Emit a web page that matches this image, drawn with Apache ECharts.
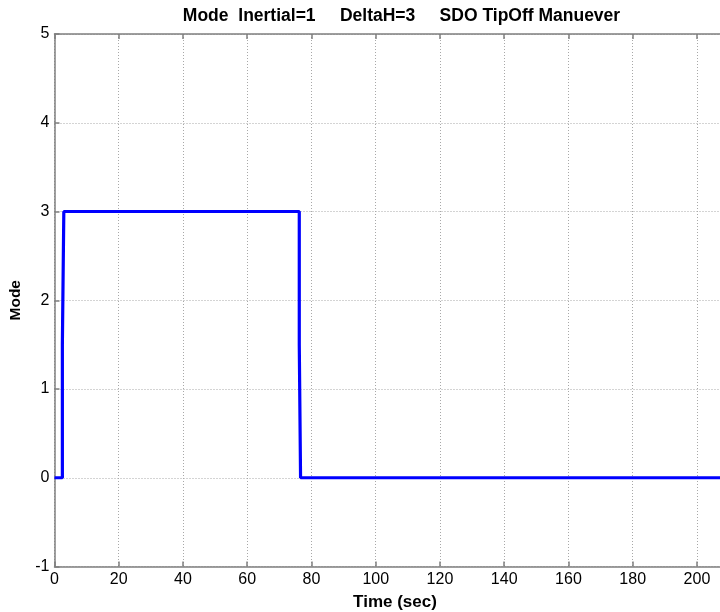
<!DOCTYPE html>
<html>
<head>
<meta charset="utf-8">
<script src="https://cdn.jsdelivr.net/npm/echarts@6/dist/echarts.min.js"></script>
<style>html,body{margin:0;padding:0;background:#fff;}#c{width:720px;height:612px;}</style>
</head>
<body>
<div id="c"></div>
<script>
var titleText = 'Mode  Inertial=1     DeltaH=3     SDO TipOff Manuever';
var xLabel = 'Time (sec)';
var yLabel = 'Mode';
var timeSec = [0, 2.45, 2.45, 2.9, 2.9, 76.2, 76.2, 76.6, 76.6, 212];
var modeVal = [0, 0, 1.5, 1.5, 3, 3, 1.5, 1.5, 0, 0];
var xMin = 0, xMax = 212, xStep = 20;
var yMin = -1, yMax = 5, yStep = 1;

var FONT = "'Liberation Sans', Arial, Helvetica, sans-serif";
var pts = timeSec.map(function (t, i) { return [t, modeVal[i]]; });
var chart = echarts.init(document.getElementById('c'), null, {renderer: 'canvas'});
var axisCol = '#7f7f7f';
chart.setOption({
  animation: false,
  backgroundColor: '#ffffff',
  title: {
    text: titleText, left: 396.5, top: 2, textAlign: 'center',
    textStyle: {fontFamily: FONT, fontWeight: 'bold', fontSize: 17.5, color: '#000'}
  },
  grid: {left: 54.5, top: 34, width: 681, height: 532.5, containLabel: false, outerBoundsMode: 'none'},
  xAxis: [{
    type: 'value', min: xMin, max: xMax, interval: xStep,
    name: xLabel, nameLocation: 'middle', nameGap: 27,
    nameTextStyle: {fontFamily: FONT, fontWeight: 'bold', fontSize: 17, color: '#000'},
    axisLine: {show: true, onZero: false, lineStyle: {color: axisCol, width: 1.5}},
    axisTick: {show: true, inside: true, length: 5, lineStyle: {color: axisCol, width: 1.5}},
    axisLabel: {fontFamily: FONT, fontSize: 16, color: '#000', margin: 5, showMaxLabel: false},
    splitLine: {show: true, lineStyle: {color: '#a8a8a8', type: [1, 2], width: 1}}
  }, {
    type: 'value', position: 'top', min: xMin, max: xMax, interval: xStep,
    axisLine: {show: true, onZero: false, lineStyle: {color: axisCol, width: 1.5}},
    axisTick: {show: true, inside: true, length: 5, lineStyle: {color: axisCol, width: 1.5}},
    axisLabel: {show: false}, splitLine: {show: false}
  }],
  yAxis: {
    type: 'value', min: yMin, max: yMax, interval: yStep,
    name: yLabel, nameLocation: 'middle', nameGap: 31, nameRotate: 90,
    nameTextStyle: {fontFamily: FONT, fontWeight: 'bold', fontSize: 15.5, color: '#000'},
    axisLine: {show: true, onZero: false, lineStyle: {color: axisCol, width: 1.5}},
    axisTick: {show: true, inside: true, length: 5, lineStyle: {color: axisCol, width: 1.5}},
    axisLabel: {fontFamily: FONT, fontSize: 16, color: '#000', margin: 5},
    splitLine: {show: true, lineStyle: {color: '#a8a8a8', type: [1, 2], width: 1}}
  },
  series: [{
    type: 'line', data: pts, showSymbol: false, symbol: 'none',
    lineStyle: {color: '#0000ff', width: 3.2}, clip: true
  }]
});
</script>
</body>
</html>
